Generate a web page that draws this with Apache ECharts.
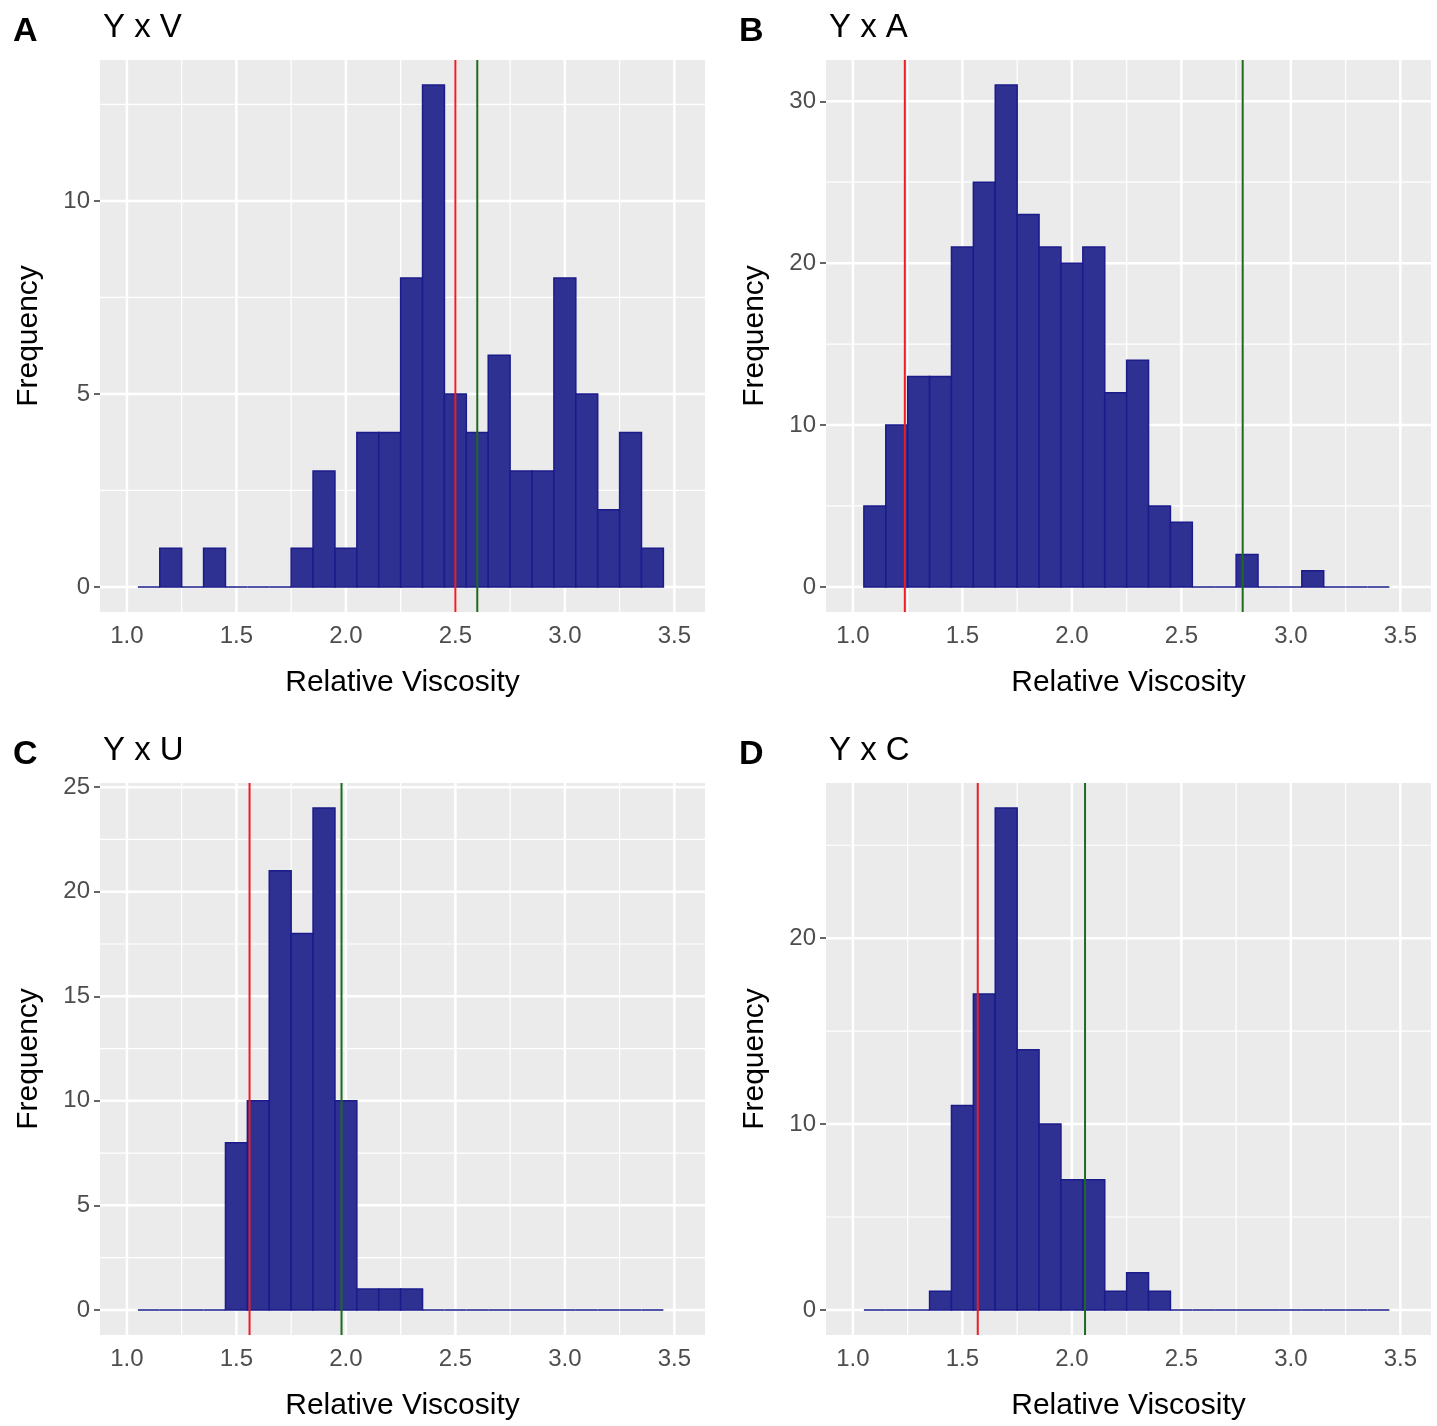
<!DOCTYPE html>
<html><head><meta charset="utf-8">
<script src="https://cdn.jsdelivr.net/npm/echarts@6/dist/echarts.min.js"></script>
<style>html,body{margin:0;background:#fff}#c{width:1437px;height:1426px}</style>
</head><body><div id="c"></div>
<script>
const binCenters = [1.1,1.2,1.3,1.4,1.5,1.6,1.7,1.8,1.9,2.0,2.1,2.2,2.3,2.4,2.5,2.6,2.7,2.8,2.9,3.0,3.1,3.2,3.3,3.4];
const countsA = [0,1,0,1,0,0,0,1,3,1,4,4,8,13,5,4,6,3,3,8,5,2,4,1];
const countsB = [5,10,13,13,21,25,31,23,21,20,21,12,14,5,4,0,0,2,0,0,1,0,0,0];
const countsC = [0,0,0,0,8,10,21,18,24,10,1,1,1,0,0,0,0,0,0,0,0,0,0,0];
const countsD = [0,0,0,1,11,17,27,14,10,7,7,1,2,1,0,0,0,0,0,0,0,0,0,0];
const redLines = [2.50, 1.237, 1.56, 1.57];
const greenLines = [2.60, 2.78, 1.98, 2.06];
const letters = ['A','B','C','D'];
const titles = ['Y x V','Y x A','Y x U','Y x C'];
const xMajor = [1.0,1.5,2.0,2.5,3.0,3.5];
const xMinor = [1.25,1.75,2.25,2.75,3.25];
const yMajor = [[0,5,10],[0,10,20,30],[0,5,10,15,20,25],[0,10,20]];
const yMinor = [[2.5,7.5,12.5],[5,15,25],[2.5,7.5,12.5,17.5,22.5],[5,15,25]];
const yMax = [13,31,24,27];
const allCounts = [countsA,countsB,countsC,countsD];

const binW = 0.1;
const grids=[],xAxes=[],yAxes=[],series=[],titleArr=[];
const pos = [[100,60],[826,60],[100,783],[826,783]];
const W=605, H=552;
for(let i=0;i<4;i++){
  const [l,t]=pos[i];
  grids.push({left:l,top:t,width:W,height:H});
  xAxes.push({type:'value',gridIndex:i,min:0.877,max:3.64,
    axisLine:{show:false},splitLine:{show:false},
    axisTick:{show:true,customValues:xMajor,length:6,lineStyle:{color:'#333',width:1.5}},
    axisLabel:{customValues:xMajor,formatter:v=>v.toFixed(1),color:'#4D4D4D',fontSize:24,fontFamily:'Liberation Sans',margin:12},
    name:'Relative Viscosity',nameLocation:'middle',nameGap:56,
    nameTextStyle:{color:'#000',fontSize:30,fontFamily:'Liberation Sans'}});
  const ext=yMax[i]*0.05;
  yAxes.push({type:'value',gridIndex:i,min:-ext,max:yMax[i]+ext,
    axisLine:{show:false},splitLine:{show:false},
    axisTick:{show:true,customValues:yMajor[i],length:6,lineStyle:{color:'#333',width:1.5}},
    axisLabel:{customValues:yMajor[i],color:'#4D4D4D',fontSize:24,fontFamily:'Liberation Sans',margin:10},
    name:'Frequency',nameLocation:'middle',nameGap:56,
    nameTextStyle:{color:'#000',fontSize:30,fontFamily:'Liberation Sans'}});
  const gl=[];
  xMajor.forEach(v=>gl.push(['x',v,2.5]));xMinor.forEach(v=>gl.push(['x',v,1.2]));
  yMajor[i].forEach(v=>gl.push(['y',v,2.5]));yMinor[i].forEach(v=>gl.push(['y',v,1.2]));
  series.push({type:'custom',xAxisIndex:i,yAxisIndex:i,silent:true,z:1,
    data:gl.map((g,k)=>[k]),
    renderItem:(p,api)=>{
      const cs=p.coordSys;const g=gl[p.dataIndex];
      const ch=[];
      if(p.dataIndex===0) ch.push({type:'rect',shape:{x:cs.x,y:cs.y,width:cs.width,height:cs.height},style:{fill:'#EBEBEB'}});
      if(g[0]==='x'){const x=api.coord([g[1],0])[0];
        ch.push({type:'line',shape:{x1:x,y1:cs.y,x2:x,y2:cs.y+cs.height},style:{stroke:'#fff',lineWidth:g[2]}});}
      else{const y=api.coord([1,g[1]])[1];
        ch.push({type:'line',shape:{x1:cs.x,y1:y,x2:cs.x+cs.width,y2:y},style:{stroke:'#fff',lineWidth:g[2]}});}
      return {type:'group',children:ch};
    }});
  series.push({type:'custom',xAxisIndex:i,yAxisIndex:i,z:3,
    data:binCenters.map((c,k)=>[c,allCounts[i][k]]),
    renderItem:(p,api)=>{
      const c=api.value(0),v=api.value(1);
      const a=api.coord([c-binW/2,v]),b=api.coord([c+binW/2,0]);
      return {type:'rect',shape:{x:a[0],y:a[1],width:b[0]-a[0],height:b[1]-a[1]},
        style:{fill:'#2E3192',stroke:'#1B1B8A',lineWidth:1.5}};
    }});
  const refs=[[redLines[i],'#EE1C25'],[greenLines[i],'#1E6B1E']];
  series.push({type:'custom',xAxisIndex:i,yAxisIndex:i,z:5,silent:true,
    data:refs.map(r=>[r[0]]),
    renderItem:(p,api)=>{
      const cs=p.coordSys;const x=api.coord([api.value(0),0])[0];
      return {type:'line',shape:{x1:x,y1:cs.y,x2:x,y2:cs.y+cs.height},style:{stroke:refs[p.dataIndex][1],lineWidth:2}};
    }});
  titleArr.push({text:letters[i],left:l-92,top:t-50,textStyle:{fontSize:34,fontWeight:'bold',color:'#000',fontFamily:'Liberation Sans'}});
  titleArr.push({text:titles[i],left:l-2,top:t-54,textStyle:{fontSize:33,fontWeight:'normal',color:'#000',fontFamily:'Liberation Sans'}});
}
const chart=echarts.init(document.getElementById('c'));
chart.setOption({animation:false,backgroundColor:'#fff',title:titleArr,grid:grids,xAxis:xAxes,yAxis:yAxes,series});
</script></body></html>
